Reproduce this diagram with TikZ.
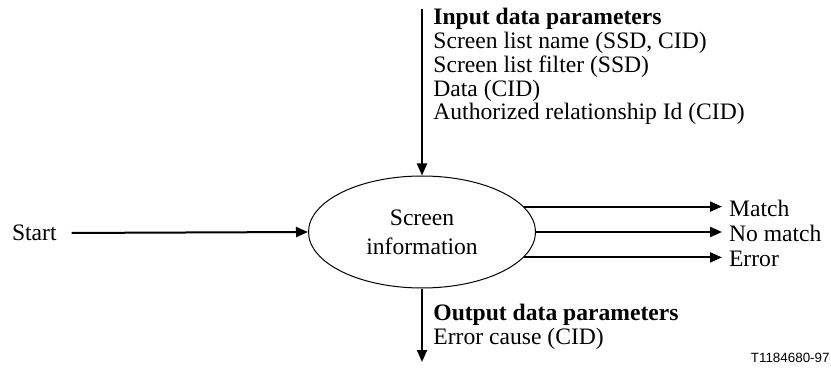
\documentclass[tikz,border=0pt]{standalone}
\usepackage{fontspec}
\setmainfont{Liberation Serif}
\setsansfont{Liberation Sans}
\usetikzlibrary{arrows.meta,positioning,shapes.geometric}

\begin{document}
\begin{tikzpicture}[x=0.5pt,y=-0.5pt,
  every node/.style={font=\fontsize{11.8}{11.9}\selectfont},
  flow/.style={line width=1pt,-{Triangle[length=6pt,width=5pt]}},
  proc/.style={ellipse,draw,line width=0.5pt,minimum width=113.5pt,minimum height=56pt,
    inner sep=0pt,align=center,font=\fontsize{11.8}{14.5}\selectfont},
  params/.style={anchor=north west,inner sep=0pt,align=left}]
  \useasboundingbox (0,0) rectangle (831,374);
  % process
  \node[proc] (screen) at (422,232) {Screen\\information};
  % input side
  \node[anchor=west] (start) at (5,233) {Start};
  \draw[flow,shorten <=4pt] (start.east) -- (screen.west);
  \coordinate (intop) at (422,9);
  \draw[flow] (intop) -- (screen.north);
  \node[params] (inparams) at (433,8) {\textbf{Input data parameters}\\
    Screen list name (SSD, CID)\\Screen list filter (SSD)\\Data (CID)\\
    Authorized relationship Id (CID)};
  % results
  \node[anchor=west] (match) at (722,208) {Match};
  \node[anchor=west] (nomatch) at (722,233) {No match};
  \node[anchor=west] (error) at (722,259) {Error};
  \draw[flow] (screen.14) -- (screen.14 -| match.west);
  \draw[flow] (screen.east) -- (screen.east -| nomatch.west);
  \draw[flow] (screen.-14) -- (screen.-14 -| error.west);
  % output side
  \coordinate (outend) at (422,362);
  \draw[flow] (screen.south) -- (outend);
  \node[params] (outparams) at (433,304) {\textbf{Output data parameters}\\Error cause (CID)};
  \node[anchor=east,inner sep=0pt,font=\sffamily\fontsize{6.7}{8}\selectfont] (figid) at (830,358) {T1184680-97};
\end{tikzpicture}
\end{document}
